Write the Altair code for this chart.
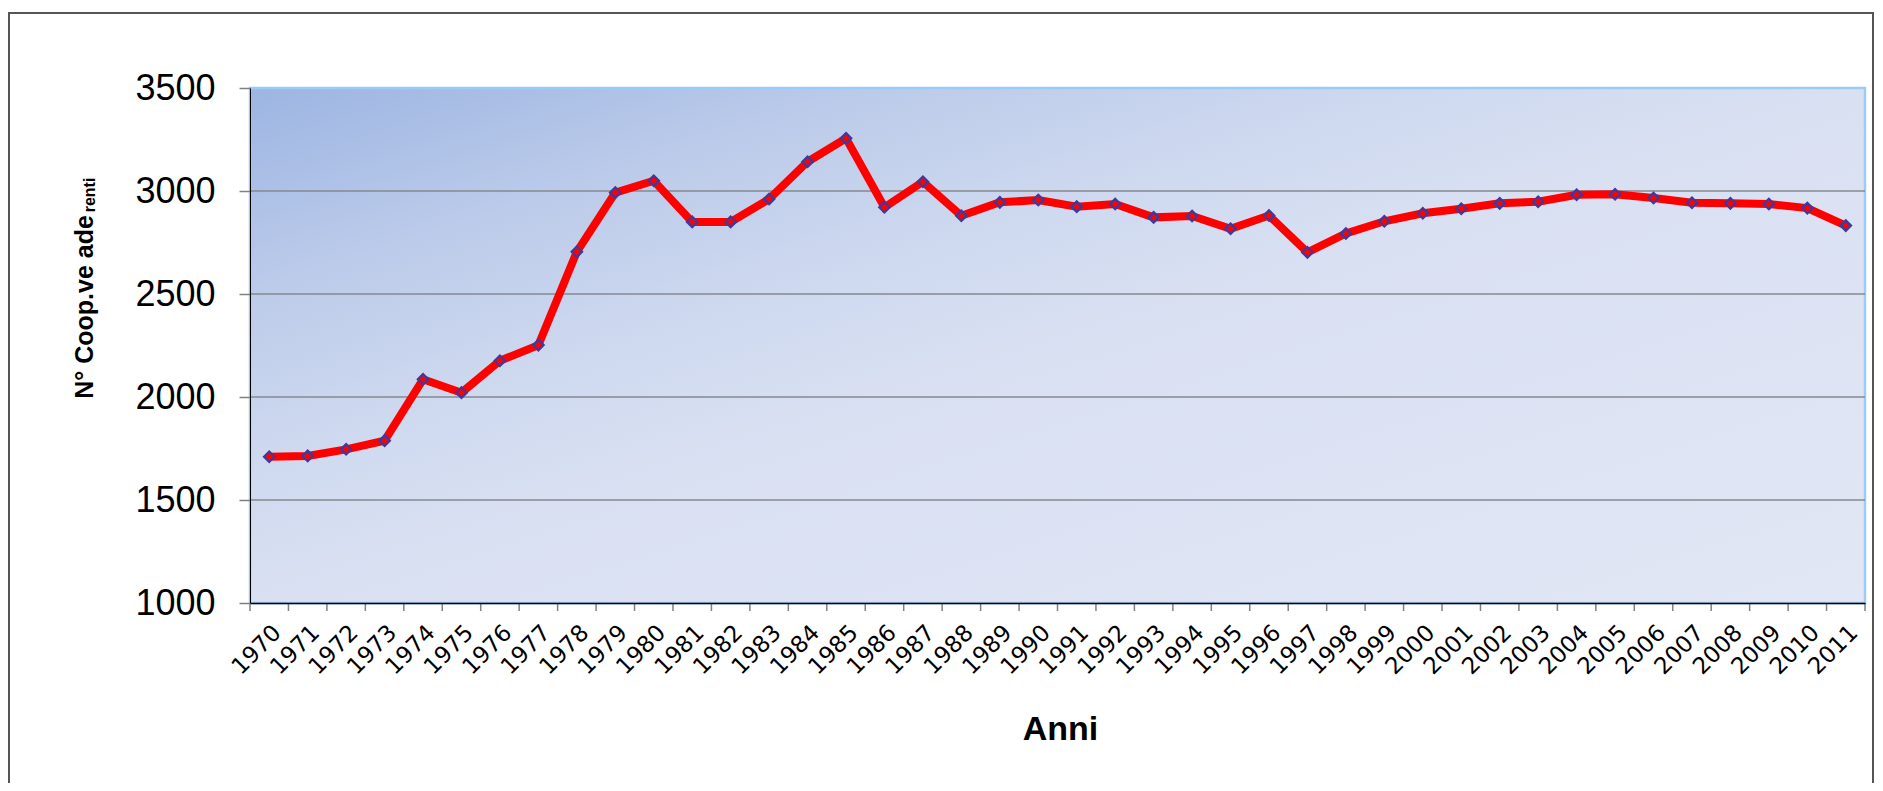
import altair as alt
import pandas as pd

years = list(range(1970, 2012))
values = [1710, 1714, 1746, 1788, 2086, 2021, 2176, 2252, 2705, 2992,
          3050, 2850, 2850, 2961, 3142, 3256, 2921, 3045, 2880, 2945,
          2956, 2924, 2937, 2872, 2879, 2817, 2881, 2702, 2794, 2853,
          2892, 2914, 2940, 2948, 2982, 2984, 2966, 2943, 2940, 2937,
          2917, 2832]
y_ticks = [1000, 1500, 2000, 2500, 3000, 3500]
grid_values = [1500, 2000, 2500, 3000]
x_title = "Anni"
y_title_main = "N° Coop.ve ade"
y_title_sub = "renti"

W, H = 1615, 515

df = pd.DataFrame({"anno": years, "valore": values})
edges = pd.DataFrame({"edge": [y - 0.5 for y in years] + [years[-1] + 0.5]})
grid_df = pd.DataFrame({"g": grid_values})
one = pd.DataFrame({"a": [0]})

xscale = alt.Scale(domain=[years[0] - 0.5, years[-1] + 0.5], nice=False, zero=False)
yscale = alt.Scale(domain=[y_ticks[0], y_ticks[-1]], nice=False, zero=False)

x_axis = alt.Axis(values=years, format="d", labelAngle=-45, labelFont="DejaVu Sans",
                  labelFontSize=23, labelColor="black", ticks=False, labelPadding=18,
                  labelFlush=False, labelOverlap=False, domainColor="black",
                  domainWidth=1.5, grid=False, title=None, zindex=1)
y_axis = alt.Axis(values=y_ticks, format="d", labelFont="Liberation Sans", labelFontSize=36,
                  labelColor="black", tickSize=11, tickColor="#808080", tickWidth=1.5,
                  labelPadding=24, domainColor="black", domainWidth=1, grid=False,
                  title=None, zindex=1)

gradient = alt.Gradient(
    gradient="linear",
    stops=[alt.GradientStop(color="#9CB5E2", offset=0),
           alt.GradientStop(color="#BCCBEA", offset=0.2),
           alt.GradientStop(color="#CDD8EF", offset=0.35),
           alt.GradientStop(color="#D9E0F2", offset=0.5),
           alt.GradientStop(color="#E2E7F5", offset=1)],
    x1=0, y1=0, x2=1, y2=1)

bg = alt.Chart(one).mark_rect(fill=gradient, stroke="#9CCBF5", strokeWidth=2.5).encode(
    x=alt.datum(years[0] - 0.5, scale=xscale, axis=x_axis, type="quantitative"),
    x2=alt.datum(years[-1] + 0.5),
    y=alt.datum(y_ticks[-1], scale=yscale, axis=y_axis, type="quantitative"),
    y2=alt.datum(y_ticks[0]),
)

grid = alt.Chart(grid_df).mark_rule(color="#858891", strokeWidth=1.3).encode(
    y=alt.Y("g:Q", scale=yscale, axis=y_axis),
)

xticks = alt.Chart(edges).mark_rule(color="#808080", strokeWidth=1.5).encode(
    x=alt.X("edge:Q", scale=xscale, axis=x_axis),
    y=alt.value(H),
    y2=alt.value(H + 8),
)

line = alt.Chart(df).mark_line(color="#FF0000", strokeWidth=8, strokeJoin="miter").encode(
    x=alt.X("anno:Q", scale=xscale, axis=x_axis),
    y=alt.Y("valore:Q", scale=yscale, axis=y_axis),
)

points = alt.Chart(df).mark_point(shape="diamond", filled=True, fill="#FF0000",
                                  stroke="#3A3AA0", strokeWidth=2.2, size=110,
                                  opacity=1).encode(
    x=alt.X("anno:Q", scale=xscale, axis=x_axis),
    y=alt.Y("valore:Q", scale=yscale, axis=y_axis),
)

title_x = alt.Chart(one).mark_text(text=x_title, font="Liberation Sans", fontSize=34,
                                   fontWeight="bold", color="black", align="center",
                                   baseline="alphabetic").encode(
    x=alt.value(W / 2 + 3), y=alt.value(652))

title_y1 = alt.Chart(one).mark_text(text=y_title_main, font="Liberation Sans", fontSize=25,
                                    fontWeight="bold", color="black", align="center",
                                    baseline="alphabetic", angle=270).encode(
    x=alt.value(-157), y=alt.value(219))

title_y2 = alt.Chart(one).mark_text(text=y_title_sub, font="Liberation Sans", fontSize=16,
                                    fontWeight="bold", color="black", align="center",
                                    baseline="alphabetic", angle=270).encode(
    x=alt.value(-155), y=alt.value(107))

frame = alt.Chart(one).mark_rect(filled=False, stroke="#555555", strokeWidth=2).encode(
    x=alt.value(-241), x2=alt.value(1623), y=alt.value(-75), y2=alt.value(760))

chart = alt.layer(bg, grid, xticks, line, points, title_x, title_y1, title_y2, frame).properties(
    width=W, height=H,
    autosize=alt.AutoSizeParams(type="none"),
    padding={"left": 242, "top": 80, "right": 10, "bottom": 180},
).configure_view(stroke=None)

chart.save("out.html", embed_options={"renderer": "svg", "actions": False})
